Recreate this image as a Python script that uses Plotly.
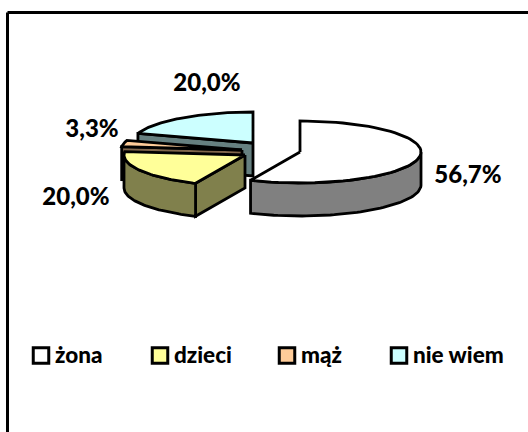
import numpy as np
import plotly.graph_objects as go

categories = ["żona", "dzieci", "mąż", "nie wiem"]
values = [56.7, 20.0, 3.3, 20.0]
labels = ["56,7%", "20,0%", "3,3%", "20,0%"]
top_colors = ["#FFFFFF", "#FFFF99", "#FFCC99", "#CCFFFF"]
side_colors = ["#808080", "#80804C", "#80664C", "#668080"]

# Pie layout, in page pixels
RX, RY, DEPTH = 121, 31, 33
centers = [(300, 152), (245, 155), (242, 150), (253, 143)]
label_xy = [(468, 177), (76, 199), (92, 131), (207, 85)]
legend_x = [41, 160, 287, 399]
legend_y = 355.5
FONT = "Lato"
LW = 2.8


def pt(c, deg, dz=0):
    a = np.radians(deg)
    return c[0] + RX * np.sin(a), c[1] - RY * np.cos(a) + dz


def arc(c, a0, a1, dz=0, n=60):
    angs = np.linspace(a0, a1, n)
    xs, ys = pt(c, angs, dz)
    return list(xs), list(ys)


# Slice angles, clockwise from 12 o'clock, from the values
total = sum(values)
edges = np.concatenate([[0], np.cumsum(values) / total * 360])

fig = go.Figure()


def poly(xs, ys, color):
    fig.add_trace(go.Scatter(
        x=xs + xs[:1], y=ys + ys[:1], mode="lines", fill="toself", fillcolor=color,
        line=dict(color="black", width=LW), hoverinfo="skip", showlegend=False))


# Painter's order: back slices first
for i in [3, 2, 1, 0]:
    c = centers[i]
    a0, a1 = edges[i], edges[i + 1]
    # cut face at the slice's first radius, when it faces the viewer
    if i in (1, 2, 3):
        px, py = pt(c, a0)
        poly([c[0], float(px), float(px), c[0]],
             [c[1], float(py), float(py) + DEPTH, c[1] + DEPTH], side_colors[i])
    # outer rim, front half only
    w0, w1 = max(a0, 90), min(a1, 270)
    if w0 < w1:
        xt, yt = arc(c, w0, w1)
        xb, yb = arc(c, w1, w0, DEPTH)
        poly(xt + xb, yt + yb, side_colors[i])
    # top face
    xa, ya = arc(c, a0, a1)
    poly([c[0]] + xa, [c[1]] + ya, top_colors[i])

# Data labels
fig.add_trace(go.Scatter(
    x=[p[0] for p in label_xy], y=[p[1] for p in label_xy], mode="text", text=labels,
    textposition="middle center",
    textfont=dict(family=FONT, size=24, color="black", weight=900),
    hoverinfo="skip", showlegend=False))

# Legend
fig.add_trace(go.Scatter(
    x=legend_x, y=[legend_y] * 4, mode="markers",
    marker=dict(symbol="square", size=15.5, color=top_colors, line=dict(color="black", width=3)),
    hoverinfo="skip", showlegend=False))
fig.add_trace(go.Scatter(
    x=[x + 14 for x in legend_x], y=[legend_y + 2] * 4, mode="text", text=categories,
    textposition="middle right",
    textfont=dict(family=FONT, size=22.5, color="black", weight=900),
    hoverinfo="skip", showlegend=False))

# Chart frame
fig.add_shape(type="line", x0=7.5, x1=528, y0=12.5, y1=12.5, line=dict(color="black", width=3))
fig.add_shape(type="line", x0=7.5, x1=7.5, y0=12.5, y1=432, line=dict(color="black", width=3))

fig.update_layout(
    width=528, height=432, margin=dict(l=0, r=0, t=0, b=0),
    paper_bgcolor="white", plot_bgcolor="white", showlegend=False,
    xaxis=dict(range=[0, 528], visible=False, fixedrange=True),
    yaxis=dict(range=[432, 0], visible=False, fixedrange=True),
)
fig.write_html("out.html", config={"displayModeBar": False},
               post_script="document.body.style.margin='0';document.body.style.overflow='hidden';")
